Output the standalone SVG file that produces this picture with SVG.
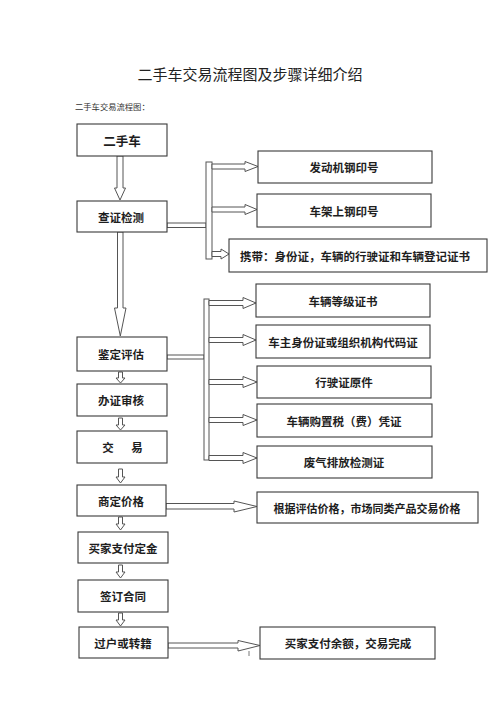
<svg xmlns="http://www.w3.org/2000/svg" width="500" height="707" viewBox="0 0 500 707">
<style>
.bg{fill:#ffffff}
.box{fill:#ffffff;stroke:#3a3a3a;stroke-width:1.1}
.arr{fill:#ffffff;stroke:#555555;stroke-width:1;stroke-linejoin:miter}
.t{font-family:"Noto Sans CJK SC","Noto Sans",sans-serif;font-size:11.5px;font-weight:bold;fill:#1e1e1e;text-anchor:middle;dominant-baseline:central}
.title{font-family:"Noto Sans CJK SC","Noto Sans",sans-serif;font-size:15px;fill:#222;text-anchor:middle}
.sub{font-family:"Noto Sans CJK SC","Noto Sans",sans-serif;font-size:8.3px;fill:#333}
</style>
<rect class="bg" x="0" y="0" width="500" height="707"/>
<text class="title" x="250" y="80">二手车交易流程图及步骤详细介绍</text>
<text class="sub" x="75" y="110">二手车交易流程图：</text>

<g id="connectors">
  <!-- vertical flow arrows -->
  <polygon class="arr" points="117,156 123,156 123,188 125.5,188 120,200 114.5,188 117,188"/>
  <polygon class="arr" points="117.5,232 123,232 123,308 126,308 120.3,336 114.5,308 117.5,308"/>
  <polygon class="arr" points="118.5,372 122.5,372 122.5,378 125,378 120.5,383 116,378 118.5,378"/>
  <polygon class="arr" points="118.5,418 122.5,418 122.5,425 125,425 120.5,430 116,425 118.5,425"/>
  <polygon class="arr" points="118.5,469 122.5,469 122.5,477 125,477 120.5,483 116,477 118.5,477"/>
  <polygon class="arr" points="118.5,517 122.5,517 122.5,524 125,524 120.5,530 116,524 118.5,524"/>
  <polygon class="arr" points="118.5,565 122.5,565 122.5,572 125,572 120.5,578 116,572 118.5,572"/>
  <polygon class="arr" points="118.5,613 122.5,613 122.5,620 125,620 120.5,626 116,620 118.5,620"/>

  <!-- branch from 查证检测 -->
  <rect class="arr" x="167" y="223" width="39" height="4.5"/>
  <rect class="arr" x="206" y="162" width="6" height="97"/>
  <polygon class="arr" points="212,164 245,164 245,161.5 258,166.5 245,171.5 245,169 212,169"/>
  <polygon class="arr" points="212,207 245,207 245,204.5 257,209.5 245,214.5 245,212 212,212"/>
  <polygon class="arr" points="212,251.5 221,251.5 221,249 229,254 221,259 221,256.5 212,256.5"/>

  <!-- branch from 鉴定评估 -->
  <rect class="arr" x="167" y="355" width="37" height="4"/>
  <rect class="arr" x="204" y="299" width="5" height="161"/>
  <polygon class="arr" points="209,300.5 243,300.5 243,297.5 256,303 243,308.5 243,305.5 209,305.5"/>
  <polygon class="arr" points="209,337.5 243,337.5 243,334.5 256,340 243,345.5 243,342.5 209,342.5"/>
  <polygon class="arr" points="209,379.5 243,379.5 243,376.5 257,382 243,387.5 243,384.5 209,384.5"/>
  <polygon class="arr" points="209,417.5 243,417.5 243,414.5 257,420 243,425.5 243,422.5 209,422.5"/>
  <polygon class="arr" points="209,455.5 243,455.5 243,452.5 257,458 243,463.5 243,460.5 209,460.5"/>

  <!-- 商定价格 -> 根据评估价格 -->
  <polygon class="arr" points="166,503.5 234,503.5 234,501 257,506.5 234,512 234,509 166,509"/>
  <!-- 过户或转籍 -> 买家支付余额 -->
  <polygon class="arr" points="168,643 238,643 238,640.5 260,645.5 238,651 238,648 168,648"/>
  <line x1="249" y1="651" x2="249" y2="656" stroke="#555" stroke-width="0.8"/>
</g>

<g id="n1"><rect class="box" x="77" y="124" width="90" height="32"/><text class="t" x="122" y="140" style="font-size:12.5px">二手车</text></g>
<g id="n2"><rect class="box" x="77" y="201" width="90" height="31"/><text class="t" x="121" y="217">查证检测</text></g>
<g id="n3"><rect class="box" x="77" y="337" width="90" height="34"/><text class="t" x="121" y="354">鉴定评估</text></g>
<g id="n4"><rect class="box" x="77" y="384" width="90" height="32"/><text class="t" x="121" y="400">办证审核</text></g>
<g id="n5"><rect class="box" x="77" y="431" width="90" height="32"/><text class="t" x="124" y="447" style="letter-spacing:3px">交　易</text></g>
<g id="n6"><rect class="box" x="77" y="485" width="89" height="31"/><text class="t" x="121" y="501">商定价格</text></g>
<g id="n7"><rect class="box" x="78" y="532" width="90" height="31"/><text class="t" x="123" y="548">买家支付定金</text></g>
<g id="n8"><rect class="box" x="78" y="580" width="90" height="32"/><text class="t" x="123" y="596">签订合同</text></g>
<g id="n9"><rect class="box" x="79" y="627" width="89" height="31"/><text class="t" x="123" y="643">过户或转籍</text></g>

<g id="r1"><rect class="box" x="258" y="151" width="174" height="32"/><text class="t" x="344" y="167">发动机钢印号</text></g>
<g id="r2"><rect class="box" x="257" y="194" width="174" height="33"/><text class="t" x="344" y="210.5">车架上钢印号</text></g>
<g id="r3"><rect class="box" x="229" y="239" width="258" height="33"/><text class="t" x="355" y="255.5">携带：身份证，车辆的行驶证和车辆登记证书</text></g>
<g id="r4"><rect class="box" x="256" y="284" width="174" height="33"/><text class="t" x="343" y="300.5">车辆等级证书</text></g>
<g id="r5"><rect class="box" x="256" y="325" width="174" height="33"/><text class="t" x="343" y="341.5">车主身份证或组织机构代码证</text></g>
<g id="r6"><rect class="box" x="257" y="366" width="174" height="32"/><text class="t" x="344" y="382">行驶证原件</text></g>
<g id="r7"><rect class="box" x="257" y="404" width="175" height="33"/><text class="t" x="344" y="420.5">车辆购置税（费）凭证</text></g>
<g id="r8"><rect class="box" x="257" y="446" width="175" height="32"/><text class="t" x="344" y="462">废气排放检测证</text></g>
<g id="r9"><rect class="box" x="257" y="492" width="221" height="31"/><text class="t" x="367" y="507.5" style="font-size:11px">根据评估价格，市场同类产品交易价格</text></g>
<g id="r10"><rect class="box" x="260" y="627" width="175" height="32"/><text class="t" x="348" y="643">买家支付余额，交易完成</text></g>
</svg>
